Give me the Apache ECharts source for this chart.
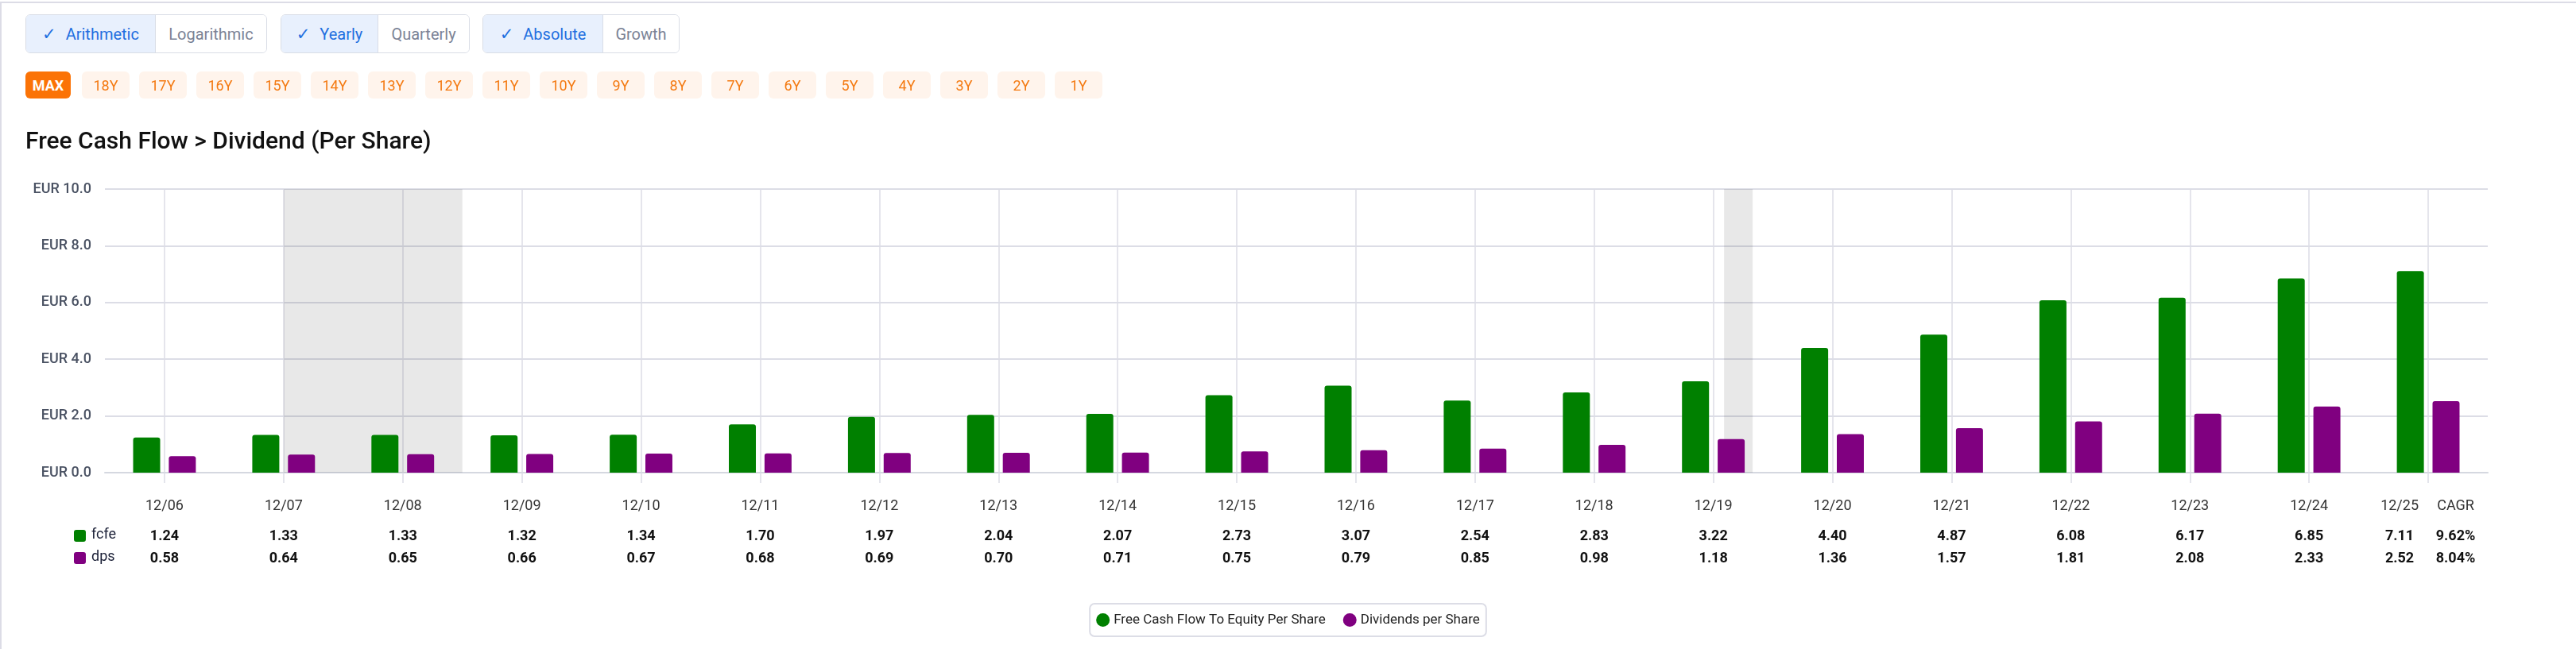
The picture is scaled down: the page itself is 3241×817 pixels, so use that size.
<!DOCTYPE html>
<html>
<head>
<meta charset="utf-8">
<script src="https://cdn.jsdelivr.net/npm/echarts@6/dist/echarts.min.js"></script>
<style>
  html, body { margin: 0; padding: 0; background: #fff; }
  body { width: 3241px; height: 817px; position: relative; overflow: hidden; font-family: Roboto, "Noto Sans", sans-serif; }
  #frame { position: absolute; left: 0; top: 2px; width: 3241px; height: 815px; border-top: 2px solid #dcdce6; border-left: 2px solid #dcdce6; box-sizing: border-box; }
  #chart { position: absolute; left: 0; top: 0; width: 3241px; height: 817px; }
  .grp { position: absolute; top: 18px; height: 49px; display: flex; border: 1.5px solid #d9dde6; border-radius: 6px; box-sizing: border-box; overflow: hidden; z-index: 2; }
  .seg { height: 100%; display: flex; align-items: center; justify-content: center; font-size: 20px; color: #7b8396; box-sizing: border-box; background: #fff; }
  .seg.act { background: #e8f0fd; color: #1f6fe0; border-right: 1.5px solid #d9dde6; }
  .seg.act .ck { font-family: "DejaVu Sans", sans-serif; font-size: 21px; font-weight: bold; margin-right: 12px; }
  .rb { position: absolute; top: 90px; height: 34px; width: 60px; border-radius: 6px; background: #fff4ec; color: #f47a12; font-size: 18px; display: flex; align-items: center; justify-content: center; z-index: 2; }
  .rb.max { background: #fb7306; color: #fff; font-weight: 700; width: 57px; }
  #title { position: absolute; left: 32px; top: 159px; font-size: 30px; font-weight: 500; color: #111; z-index: 2; white-space: nowrap; }
</style>
</head>
<body>
<div id="frame"></div>
<div id="chart"></div>
<div class="grp" style="left:32px;width:304px"><div class="seg act" style="width:163px"><span class="ck">✓</span>Arithmetic</div><div class="seg" style="flex:1">Logarithmic</div></div>
<div class="grp" style="left:353px;width:238px"><div class="seg act" style="width:122px"><span class="ck">✓</span>Yearly</div><div class="seg" style="flex:1">Quarterly</div></div>
<div class="grp" style="left:607px;width:248px"><div class="seg act" style="width:151px"><span class="ck">✓</span>Absolute</div><div class="seg" style="flex:1">Growth</div></div>
<div id="ranges"></div>
<div id="title">Free Cash Flow &gt; Dividend (Per Share)</div>
<script>
// ---- data ----
const years = [2006,2007,2008,2009,2010,2011,2012,2013,2014,2015,2016,2017,2018,2019,2020,2021,2022,2023,2024,2025];
const periodLabels = ['12/06','12/07','12/08','12/09','12/10','12/11','12/12','12/13','12/14','12/15','12/16','12/17','12/18','12/19','12/20','12/21','12/22','12/23','12/24','12/25'];
const fcfe = [1.24,1.33,1.33,1.32,1.34,1.70,1.97,2.04,2.07,2.73,3.07,2.54,2.83,3.22,4.40,4.87,6.08,6.17,6.85,7.11];
const dps  = [0.58,0.64,0.65,0.66,0.67,0.68,0.69,0.70,0.71,0.75,0.79,0.85,0.98,1.18,1.36,1.57,1.81,2.08,2.33,2.52];
const cagr = ['9.62%','8.04%'];
const recessions = [[2007.0, 2008.5], [2019.09, 2019.33]]; // year-end based decimal years
const rangeButtons = ['MAX','18Y','17Y','16Y','15Y','14Y','13Y','12Y','11Y','10Y','9Y','8Y','7Y','6Y','5Y','4Y','3Y','2Y','1Y'];

// range buttons
const rw = document.getElementById('ranges');
rangeButtons.forEach((t, i) => {
  const d = document.createElement('div');
  d.className = 'rb' + (i === 0 ? ' max' : '');
  d.style.left = (i === 0 ? 32 : 103 + (i - 1) * 72) + 'px';
  d.textContent = t;
  rw.appendChild(d);
});

// label positions: 12/25 label nudged left, CAGR column after it
const labelPos = years.slice(0, -1).concat([years[years.length - 1] - 0.24, years[years.length - 1] + 0.23]);

const GREEN = '#008000', PURPLE = '#800080';
const chart = echarts.init(document.getElementById('chart'), null, { renderer: 'canvas' });
chart.setOption({
  animation: false,
  textStyle: { fontFamily: 'Roboto' },
  grid: { left: 132, right: 111, top: 238, bottom: 222, containLabel: false },
  legend: {
    bottom: 16, left: 'center',
    data: ['Free Cash Flow To Equity Per Share', 'Dividends per Share'],
    icon: 'circle', itemWidth: 17, itemHeight: 17, itemGap: 22,
    borderColor: '#dcdde6', borderWidth: 2, borderRadius: 6, padding: [12, 8],
    textStyle: { fontSize: 17, color: '#222', fontFamily: 'Roboto' }
  },
  xAxis: {
    type: 'value', min: 2005.5, max: 2025.5,
    axisLine: { show: true, lineStyle: { color: '#d5d8e0', width: 2 } },
    axisTick: { show: true, customValues: years, length: 13, lineStyle: { color: '#dcdde6', width: 1.5 } },
    splitLine: { show: true, lineStyle: { color: '#dcdde6', width: 1.5 } },
    axisLabel: {
      customValues: labelPos,
      margin: 28,
      formatter: function (v) {
        let idx = -1;
        for (let i = 0; i < labelPos.length; i++) if (Math.abs(labelPos[i] - v) < 0.01) idx = i;
        if (idx < 0) return '';
        if (idx < years.length) {
          return '{d|' + periodLabels[idx] + '}\n{s| }\n{v|' + fcfe[idx].toFixed(2) + '}\n{v|' + dps[idx].toFixed(2) + '}';
        }
        return '{d|CAGR}\n{s| }\n{v|' + cagr[0] + '}\n{v|' + cagr[1] + '}';
      },
      rich: {
        d: { fontSize: 18, color: '#333', lineHeight: 28, fontFamily: 'Roboto' },
        s: { fontSize: 1, lineHeight: 10 },
        v: { fontSize: 18, color: '#111', fontWeight: 'bold', lineHeight: 28, fontFamily: 'Roboto' }
      }
    }
  },
  yAxis: {
    type: 'value', min: 0, max: 10, interval: 2,
    axisLine: { show: false }, axisTick: { show: false },
    splitLine: { lineStyle: { color: '#dcdde6', width: 2 } },
    axisLabel: { margin: 17, fontSize: 18, color: '#4a5263', fontWeight: 500, fontFamily: 'Roboto', formatter: v => 'EUR ' + v.toFixed(1) }
  },
  graphic: [
    { type: 'rect', left: 93, top: 667, shape: { width: 15, height: 15, r: 3 }, style: { fill: GREEN } },
    { type: 'text', left: 115, top: 664, style: { text: 'fcfe', fontSize: 18, fill: '#1a1f36', fontFamily: 'Roboto' } },
    { type: 'rect', left: 93, top: 695, shape: { width: 15, height: 15, r: 3 }, style: { fill: PURPLE } },
    { type: 'text', left: 115, top: 692, style: { text: 'dps', fontSize: 18, fill: '#1a1f36', fontFamily: 'Roboto' } }
  ],
  series: [
    {
      name: 'Free Cash Flow To Equity Per Share', type: 'bar',
      data: years.map((y, i) => [y, fcfe[i]]),
      barWidth: 34, barGap: '32%',
      itemStyle: { color: GREEN, borderRadius: [3, 3, 0, 0] },
      markArea: {
        silent: true,
        itemStyle: { color: 'rgba(0,0,0,0.09)' },
        data: recessions.map(r => [{ xAxis: r[0] }, { xAxis: r[1] }])
      }
    },
    {
      name: 'Dividends per Share', type: 'bar',
      data: years.map((y, i) => [y, dps[i]]),
      barWidth: 34, barGap: '32%',
      itemStyle: { color: PURPLE, borderRadius: [3, 3, 0, 0] }
    }
  ]
});
</script>
</body>
</html>
